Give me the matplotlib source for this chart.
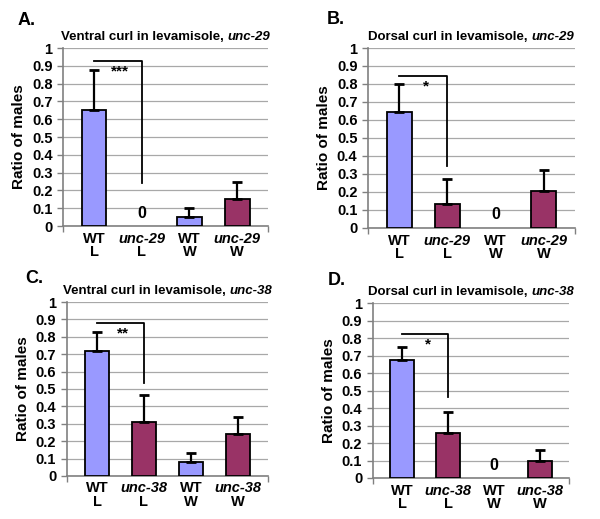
import numpy as np
import matplotlib.pyplot as plt

plt.rcParams['font.family'] = ['Liberation Sans', 'DejaVu Sans']
plt.rcParams['font.weight'] = 'bold'

# data for the four panels
letters = ['A.', 'B.', 'C.', 'D.']
title_main = ['Ventral curl in levamisole, ', 'Dorsal curl in levamisole, ',
              'Ventral curl in levamisole, ', 'Dorsal curl in levamisole, ']
genes = ['unc-29', 'unc-29', 'unc-38', 'unc-38']
means_a = [0.65, 0.0, 0.05, 0.15]
errs_a = [0.225, 0.0, 0.05, 0.10]
means_b = [0.645, 0.135, 0.0, 0.205]
errs_b = [0.155, 0.135, 0.0, 0.115]
means_c = [0.72, 0.31, 0.08, 0.24]
errs_c = [0.105, 0.155, 0.05, 0.10]
means_d = [0.675, 0.255, 0.0, 0.10]
errs_d = [0.075, 0.12, 0.0, 0.06]
stars = ['***', '*', '**', '*']
bracket_top = [0.928, 0.846, 0.88, 0.821]
bracket_bottom = [0.244, 0.344, 0.535, 0.463]
cond = ['L', 'L', 'W', 'W']

all_means = [means_a, means_b, means_c, means_d]
all_errs = [errs_a, errs_b, errs_c, errs_d]

blue = '#9999FF'
maroon = '#993366'
bar_colors = [blue, maroon, blue, maroon]

fig = plt.figure(figsize=(6, 5.19), dpi=100)
boxes = [[0.105, 0.5645, 0.342, 0.343],
         [0.613, 0.561, 0.345, 0.3465],
         [0.111, 0.083, 0.336, 0.335],
         [0.621, 0.079, 0.328, 0.337]]
letter_pos = [(0.03, 0.952), (0.545, 0.954), (0.042, 0.455), (0.547, 0.451)]

for i in range(4):
    ax = fig.add_axes(boxes[i])
    x = np.arange(4)
    m = all_means[i]
    e = all_errs[i]
    for j in range(4):
        if m[j] > 0:
            ax.bar(x[j], m[j], width=0.52, color=bar_colors[j], edgecolor='black',
                   linewidth=1.3, zorder=3)
            ax.errorbar(x[j], m[j], yerr=[[0], [e[j]]], color='black', capsize=3.5,
                        capthick=2, elinewidth=1.6, zorder=4)
        else:
            ax.text(x[j], 0.03, '0', ha='center', va='bottom', fontsize=11.5,
                    fontweight='bold')
    ax.set_xlim(-0.65, 3.65)
    ax.set_ylim(0, 1)
    ax.set_yticks(np.arange(0, 1.01, 0.1))
    ax.set_yticklabels(['0', '0.1', '0.2', '0.3', '0.4', '0.5', '0.6', '0.7',
                        '0.8', '0.9', '1'], fontsize=10.5, fontweight='bold')
    ax.yaxis.grid(True, color='#a8a8a8', linewidth=0.9, zorder=0)
    ax.set_axisbelow(True)
    ax.set_xticks([-0.65, 3.65])
    ax.set_xticklabels(['', ''])
    ax.tick_params(axis='both', color='#808080', length=4, width=1)
    for s in ['top', 'right']:
        ax.spines[s].set_visible(False)
    for s in ['left', 'bottom']:
        ax.spines[s].set_color('#808080')
        ax.spines[s].set_linewidth(1.2)
    ax.set_ylabel('Ratio of males', fontsize=11, fontweight='bold', labelpad=4)

    # category labels: first line genotype, second line condition
    trans = ax.get_xaxis_transform()
    for j in range(4):
        first = 'WT' if j % 2 == 0 else genes[i]
        style = 'normal' if j % 2 == 0 else 'italic'
        ax.text(x[j], -0.032, first, transform=trans, ha='center', va='top',
                fontsize=10.5, fontweight='bold', style=style)
        ax.text(x[j], -0.108, cond[j], transform=trans, ha='center', va='top',
                fontsize=10.5, fontweight='bold')

    # significance bracket
    ax.plot([x[0], x[1], x[1]], [bracket_top[i], bracket_top[i], bracket_bottom[i]],
            color='black', linewidth=1.3, zorder=5)
    ax.text(0.55, bracket_top[i] - 0.02, stars[i], ha='center', va='top',
            fontsize=11, fontweight='bold')

    # title with italic gene name
    t1 = ax.text(0.5, 1.03, title_main[i], transform=ax.transAxes, ha='center',
                 va='bottom', fontsize=9.5, fontweight='bold')
    fig.canvas.draw()
    w2 = ax.text(0, 0, genes[i], fontsize=9.5, fontweight='bold', style='italic')
    wb = w2.get_window_extent()
    w2.remove()
    shift = wb.width / 2
    inv = ax.transAxes.inverted()
    t1.set_position((0.5 - inv.transform((shift, 0))[0] + inv.transform((0, 0))[0], 1.03))
    fig.canvas.draw()
    ax.annotate(genes[i], xy=(1, 0), xycoords=t1, va='bottom', ha='left',
                fontsize=9.5, fontweight='bold', style='italic')

    fig.text(letter_pos[i][0], letter_pos[i][1], letters[i], fontsize=13,
             fontweight='bold', va='baseline')

fig.savefig('out.png', dpi=100)
